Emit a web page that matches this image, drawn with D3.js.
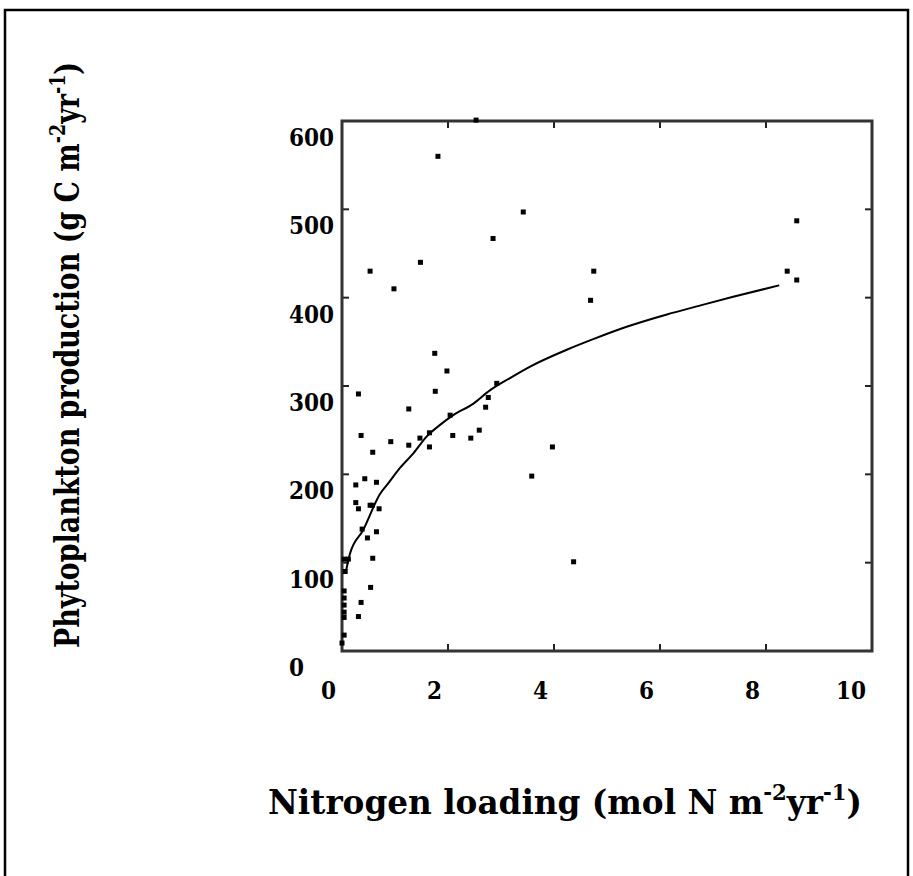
<!DOCTYPE html>
<html>
<head>
<meta charset="utf-8">
<script src="https://cdn.jsdelivr.net/npm/d3@7"></script>
<style>
  body { margin: 0; background: #fff; }
  text { font-family: "DejaVu Serif Condensed", "DejaVu Serif", "Liberation Serif", serif; font-weight: bold; fill: #000; }
</style>
</head>
<body>
<svg id="chart" width="913" height="876"></svg>
<script>
"use strict";
// nitrogen loading (mol N m-2 yr-1) vs phytoplankton production (g C m-2 yr-1)
const loadN = [2.53, 1.81, 3.42, 2.85, 1.48, 0.53, 0.98, 1.75, 1.98, 0.31, 1.76, 1.26,
  0.36, 0.92, 1.26, 1.47, 1.65, 1.65, 2.04, 2.09, 2.43, 2.59, 2.71, 2.76, 2.92,
  0.58, 0.43, 0.65, 0.26, 0.26, 0.31, 0.53, 0.57, 0.70, 0.38, 0.48, 0.65, 0.58,
  0.54, 0.36, 0.31, 0.04, 0.0, 0.04, 0.04, 0.04, 0.04, 0.04, 0.04, 0.12, 0.06,
  4.75, 4.69, 8.58, 8.40, 8.58, 3.97, 3.58, 4.37];
const prodC = [601, 560, 497, 467, 440, 430, 410, 337, 317, 291, 294, 274,
  244, 237, 233, 241, 247, 231, 267, 244, 241, 250, 276, 287, 303,
  225, 195, 191, 188, 168, 161, 165, 165, 161, 138, 128, 135, 105,
  72, 55, 39, 18, 9, 68, 60, 52, 44, 38, 104, 104, 90,
  430, 397, 487, 430, 420, 231, 198, 101];

// fitted curve as drawn
const fitX = [0.08, 0.15, 0.40, 0.72, 0.875, 1.09, 1.35, 1.60, 1.85, 2.10, 2.48, 2.79,
  3.17, 3.55, 4.24, 4.74, 5.37, 6.13, 6.75, 7.38, 8.25];
const fitY = [92, 110, 137, 178, 190, 207, 224, 243, 256, 267, 280, 295,
  309, 322, 341, 353, 367, 381, 391, 401, 414];

const xTicks = [0, 2, 4, 6, 8, 10];
const yTicks = [0, 100, 200, 300, 400, 500, 600];

const svg = d3.select("#chart");

// outer frame
svg.append("rect")
  .attr("x", 5).attr("y", 10)
  .attr("width", 903).attr("height", 880)
  .attr("fill", "none").attr("stroke", "#000").attr("stroke-width", 2.5);

const x = d3.scaleLinear().domain([0, 10]).range([342, 872]);
const y = d3.scaleLinear().domain([0, 600]).range([651, 121]);

// inner ticks on all four sides
const tk = 7;
const gAx = svg.append("g").attr("stroke", "#222").attr("stroke-width", 2);
gAx.selectAll(".tb").data(xTicks.slice(1, -1)).join("line")
  .attr("x1", d => x(d)).attr("x2", d => x(d))
  .attr("y1", y(0)).attr("y2", y(0) - tk);
gAx.selectAll(".tt").data(xTicks.slice(1, -1)).join("line")
  .attr("x1", d => x(d)).attr("x2", d => x(d))
  .attr("y1", y(600)).attr("y2", y(600) + tk);
gAx.selectAll(".tl").data(yTicks.slice(1, -1)).join("line")
  .attr("x1", x(0)).attr("x2", x(0) + tk)
  .attr("y1", d => y(d)).attr("y2", d => y(d));
gAx.selectAll(".tr").data(yTicks.slice(1, -1)).join("line")
  .attr("x1", x(10)).attr("x2", x(10) - tk)
  .attr("y1", d => y(d)).attr("y2", d => y(d));

svg.append("rect")
  .attr("x", x(0)).attr("y", y(600))
  .attr("width", x(10) - x(0)).attr("height", y(0) - y(600))
  .attr("fill", "none").attr("stroke", "#333").attr("stroke-width", 3);

// tick labels (old-style offsets)
svg.append("g").selectAll("text").data(xTicks).join("text")
  .attr("x", d => x(d) - 6)
  .attr("y", 699)
  .attr("text-anchor", "end")
  .attr("font-size", 24)
  .text(d => d);

svg.append("g").selectAll("text").data(yTicks).join("text")
  .attr("x", 289)
  .attr("y", d => y(d) + 25)
  .attr("text-anchor", "start")
  .attr("font-size", 24)
  .text(d => d);

// fitted line
const line = d3.line().curve(d3.curveMonotoneX).x(d => x(d[0])).y(d => y(d[1]));
svg.append("path")
  .datum(d3.zip(fitX, fitY))
  .attr("d", line)
  .attr("fill", "none").attr("stroke", "#000").attr("stroke-width", 2);

// points
svg.append("g").selectAll("rect").data(d3.zip(loadN, prodC)).join("rect")
  .attr("x", d => x(d[0]) - 2.5)
  .attr("y", d => y(d[1]) - 2.5)
  .attr("width", 5).attr("height", 5)
  .attr("fill", "#000");

// axis titles
const xt = svg.append("text")
  .attr("x", 268).attr("y", 814)
  .attr("font-size", 34)
  .attr("textLength", 594).attr("lengthAdjust", "spacingAndGlyphs");
xt.append("tspan").text("Nitrogen loading (mol N m");
xt.append("tspan").attr("dy", -14).attr("font-size", 22).text("-2");
xt.append("tspan").attr("dy", 14).text("yr");
xt.append("tspan").attr("dy", -14).attr("font-size", 22).text("-1");
xt.append("tspan").attr("dy", 14).text(")");

const yt = svg.append("text")
  .attr("transform", "translate(79,648) rotate(-90)")
  .attr("font-size", 34)
  .attr("textLength", 586).attr("lengthAdjust", "spacingAndGlyphs");
yt.append("tspan").text("Phytoplankton production (g C m");
yt.append("tspan").attr("dy", -14).attr("font-size", 22).text("-2");
yt.append("tspan").attr("dy", 14).text("yr");
yt.append("tspan").attr("dy", -14).attr("font-size", 22).text("-1");
yt.append("tspan").attr("dy", 14).text(")");
</script>
</body>
</html>
